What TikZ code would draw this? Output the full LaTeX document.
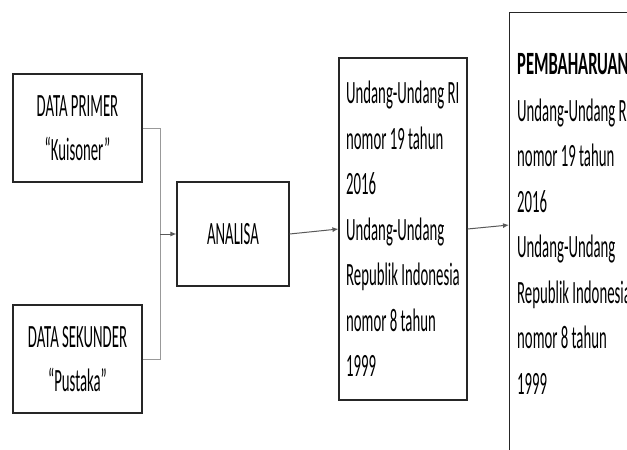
\documentclass[tikz,border=0pt]{standalone}
\usepackage{fontspec}
\setmainfont[FakeStretch=0.455, BoldFeatures={FakeStretch=0.51}]{Carlito}
\usetikzlibrary{arrows.meta,calc}
\begin{document}
\begin{tikzpicture}[x=1pt,y=-1pt,
  box/.style={draw=black!85, line width=1.1pt, fill=white, inner sep=0pt},
  txt/.style={font=\fontsize{32.5}{44}\selectfont},
  txtb/.style={font=\fontsize{32.5}{45.5}\selectfont},
  conn/.style={draw=black!40, line width=1pt},
  arr/.style={-{Latex[length=6pt,width=5pt]}, draw=black!65, line width=1pt}]
\useasboundingbox (0,0) rectangle (627,450);
\clip (0,0) rectangle (627,450);
\fill[white] (0,0) rectangle (627,450);

\node[box, txt, align=center, minimum width=129pt, minimum height=108pt] (prim) at (77.5,128) {DATA PRIMER\\“Kuisoner”};
\node[box, txt, align=center, minimum width=129pt, minimum height=108pt] (sek) at (77.5,359) {DATA SEKUNDER\\“Pustaka”};
\node[box, txt, align=center, minimum width=112pt, minimum height=104pt] (ana) at (233,234) {ANALISA};
\node[box, txtb, align=left, minimum width=128pt, minimum height=342pt] (mid) at (403,229)
  {Undang-Undang RI\\nomor 19 tahun\\2016\\Undang-Undang\\Republik Indonesia\\nomor 8 tahun\\1999};
\node[box, anchor=north west, minimum width=200pt, minimum height=470pt] (rb) at (509,12) {};
\node[txtb, anchor=north west, align=left, inner sep=0pt] (rbt) at (517,53)
  {\textbf{PEMBAHARUAN}\\[1.5pt]Undang-Undang RI\\nomor 19 tahun\\2016\\Undang-Undang\\Republik Indonesia\\nomor 8 tahun\\1999};

\coordinate (j) at (160,234);
\draw[conn] (prim.east) -| (j);
\draw[conn] (sek.east) -| (j);
\draw[arr] (j) -- (ana.west);
\draw[arr] (ana.east) -- (mid.west);
\coordinate (rin) at ($(rb.west |- mid.east)+(0,-4)$);
\draw[arr] (mid.east) -- (rin);
\end{tikzpicture}
\end{document}
